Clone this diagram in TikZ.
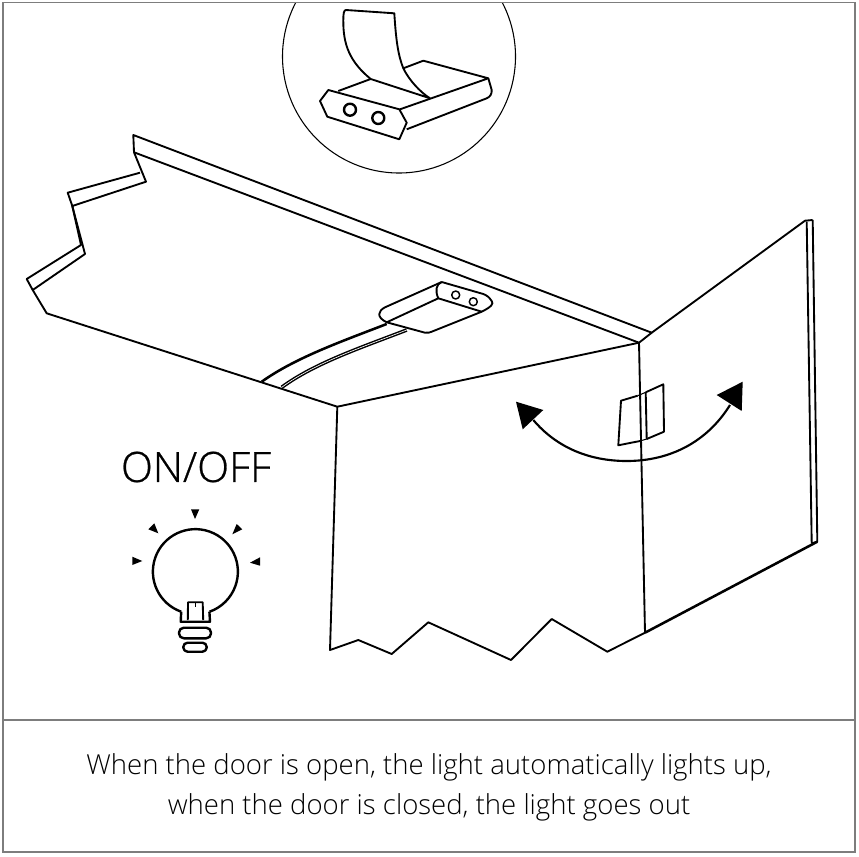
\documentclass[tikz,border=0pt]{standalone}
\usepackage{fontspec}
\setmainfont{Open Sans}[UprightFont=* Light]
\newfontfamily\onofffont{Open Sans}[UprightFont=* Light, FakeBold=0.6]
\usetikzlibrary{positioning}
\definecolor{framegray}{RGB}{125,125,125}
\tikzset{
	frameline/.style={draw=framegray, line width=1.1pt},
	outline/.style={draw=black, line width=1.4pt, line join=round},
	thinline/.style={draw=black, line width=0.8pt, line join=round},
	heavyline/.style={draw=black, line width=1.9pt, line join=round},
	bulbline/.style={draw=black, line width=1.8pt, line join=round},
	labeltext/.style={inner sep=0pt, align=center, text=black}
}
\begin{document}
\begin{tikzpicture}[x=0.75pt, y=-0.75pt]
	\useasboundingbox (0,0) rectangle (859,856);
	\fill [white] (0,0) rectangle (859,856);
	% detail circle
	\begin{scope}
		\clip (3,3) rectangle (855,720);
		\draw [thinline] (399,56.5) circle (116.5);
	\end{scope}
	\draw [frameline] (3,2.5) rectangle (855,852);
	\draw [frameline] (3,720) -- (855,720);
	% tape and clip in the circle
	\draw [outline] (370.7,79) .. controls (350,62) and (343,45) .. (343.3,20) .. controls (343.3,13) and (344,10) .. (346,10) -- (394.3,13.3) .. controls (396,40) and (398,55) .. (403.3,68.3) .. controls (409,80) and (420,92) .. (430,98.3) -- cycle;
	\draw [outline] (338.3,91) -- (370.7,79);
	\draw [outline] (403.3,68.3) -- (423.3,60.7) -- (488.3,78.3) -- (400,109.3);
	\draw [outline] (488.3,78.3) -- (491.7,90) .. controls (492,94) and (490,97) .. (486.7,98.3) -- (406.7,129.3);
	\draw [outline] (328.3,90) -- (320,101) -- (327.3,116.7) -- (399.3,139.3) -- (406.7,122.7) -- (399.3,109.3) -- cycle;
	\draw [bulbline] (350,109.7) circle (6);
	\draw [bulbline] (378.3,118) circle (6);
	% cabinet top
	\draw [outline] (133.3,135) -- (134,152.3) -- (639,342.7) -- (651.7,332.7) -- cycle;
	\draw [outline] (134,152.3) -- (146,181.7) -- (72.3,206) -- (85,254) -- (32.7,290) -- (46.7,313.3) -- (337.3,406.7) -- (639,342.7);
	\draw [outline] (140,172.7) -- (67.7,192.7) -- (72.3,206) -- (81,245) -- (26.7,279) -- (32.7,290);
	% cable
	\draw [heavyline] (386.7,324) .. controls (340,342) and (295,358) .. (261.7,381.7);
	\draw [outline, line width=1.1pt, double, double distance=0.5pt] (406.7,330) .. controls (360,348) and (315,363) .. (281.7,387.3);
	% module
	\draw [outline] (441.7,282) -- (385,307.3) .. controls (378,311) and (376,317) .. (386.7,322.3) -- (425,332.7) .. controls (428,333) and (430,332.5) .. (431.7,331.7) -- (481.7,311.7) .. controls (491,307) and (494,304) .. (491.7,301) .. controls (489,297) and (487,295.5) .. (483.3,294) -- (441.7,282);
	\draw [outline] (441.7,282) .. controls (436,284) and (435,291) .. (438.3,298.3) -- (386.7,322.3);
	\draw [outline] (438.3,298.3) -- (481.7,311.7);
	\draw [outline, line width=1.1pt] (455.7,295) circle (4);
	\draw [outline, line width=1.1pt] (473.3,301.7) circle (4);
	% left panel
	\draw [outline] (337.3,406.7) -- (330,650) -- (358.3,640) -- (391.7,654) -- (428.3,622.3) -- (511,660) -- (551.7,619) -- (607.3,651.7) -- (645,632.7);
	\draw [outline] (639,342.7) -- (645,632.7);
	% door
	\draw [outline] (651.7,332.7) -- (805,220.7) -- (812.7,220);
	\draw [outline] (806.7,221.7) -- (811.7,543.3);
	\draw [outline] (812.7,220) -- (817.3,541.7) -- (811.7,543.3);
	\draw [heavyline] (817.3,541.7) -- (645,632.7);
	% switch
	\draw [outline] (637.7,395.7) -- (621,400.7) -- (618.3,445.3) -- (640,441);
	\draw [outline] (645.7,392.3) -- (663.3,384.3) -- (664,431.7) -- (646.7,439);
	\draw [outline] (645.7,392.3) -- (646.7,439);
	\draw [thinline] (637.7,395.7) -- (645.7,392.3);
	\draw [thinline] (640,441) -- (646.7,439);
	% swing arrow
	\draw [outline, line width=1.6pt] (533.3,420) .. controls (557,448) and (590,461) .. (626.7,461) .. controls (670,461) and (707,442) .. (730,405);
	\fill [black] (516,401.7) -- (543.3,410) -- (522.7,429.3) -- cycle;
	\fill [black] (742.7,381.7) -- (716.7,395) -- (741.7,411) -- cycle;
	% bulb
	\node [labeltext, font=\onofffont\fontsize{31.3}{36}\selectfont] (onoff) at (196,467) {ON/OFF};
	\draw [bulbline] (181.2,611.7) arc (109.5:430.5:42.5) coordinate (bulbend);
	\draw [bulbline] (181.2,611.7) -- (180.7,621.7) -- (210,621.7) -- (209.4,611.7);
	\draw [outline] (187.8,620) -- (188,602.3) -- (202.7,602.3) -- (203.2,620);
	\draw [thinline] (195.5,602.3) -- (195.5,606.5);
	\draw [bulbline, rounded corners=3.6pt] (179,627.7) rectangle (211,638.3);
	\draw [bulbline, rounded corners=3.2pt] (183.3,642.7) rectangle (206.7,651.7);
	\fill [black] (191,509.3) -- (199.3,509.3) -- (195,519) -- cycle;
	\fill [black] (158.3,533.3) -- (148.3,529.3) -- (154.3,523.3) -- cycle;
	\fill [black] (232.3,534.3) -- (236.7,524) -- (242.3,529.3) -- cycle;
	\fill [black] (132.3,556.7) -- (132.3,565) -- (142.3,561) -- cycle;
	\fill [black] (260,557.3) -- (260,565.7) -- (250,562.7) -- cycle;
	% caption
	\node [labeltext, font=\fontsize{20.65}{30}\selectfont] (caption) at (429,787) {When the door is open, the light automatically lights up,\\when the door is closed, the light goes out};
\end{tikzpicture}
\end{document}
